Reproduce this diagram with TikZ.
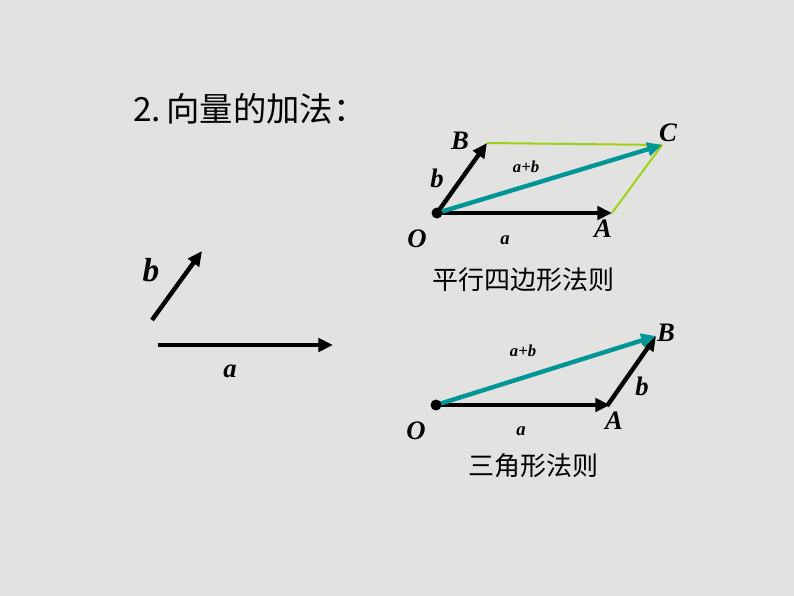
\documentclass[tikz,border=0pt]{standalone}
\usepackage{fontspec}
\setmainfont{Liberation Serif}
\newfontfamily\cjk{Noto Sans CJK SC}
\usetikzlibrary{arrows.meta}
\definecolor{bgGray}{RGB}{226,226,224}
\definecolor{sumTeal}{RGB}{0,150,150}
\definecolor{sideGreen}{RGB}{160,210,20}
\tikzset{
    vec/.style={line width=3.3pt,-{Triangle[length=11pt,width=10pt]}},
    sumvec/.style={vec,sumTeal},
    side/.style={line width=1.5pt,sideGreen},
    lbl/.style={font=\bfseries\itshape\fontsize{20}{20}\selectfont,inner sep=0pt},
    smalllbl/.style={font=\bfseries\itshape\fontsize{12.5}{12.5}\selectfont,inner sep=0pt},
    captext/.style={font=\cjk\fontsize{19.5}{19.5}\selectfont,inner sep=0pt},
}
\begin{document}
\begin{tikzpicture}[x=0.75pt,y=-0.75pt]
        \fill[bgGray] (0,0) rectangle (794,596);
        \useasboundingbox (0,0) rectangle (794,596);
        %% title
        \node[font=\cjk\fontsize{25}{25}\selectfont,anchor=west,inner sep=0pt] (title) at (133,109) {2.\,向量的加法：};
        %% free vectors a and b
        \coordinate (bS) at (152,320);
        \coordinate (bE) at (202,251);
        \coordinate (aS) at (158,345);
        \coordinate (aE) at (333,345);
        \draw[vec] (bS) -- (bE);
        \draw[vec] (aS) -- (aE);
        \node[lbl,font=\bfseries\itshape\fontsize{25}{25}\selectfont] (bLbl) at (151,270) {b};
        \node[lbl] (aLbl) at (230,371) {a};
        %% parallelogram rule
        \coordinate (pO) at (437,213);
        \coordinate (pA) at (612,213);
        \coordinate (pB) at (487,143);
        \coordinate (pC) at (662,145);
        \draw[side] (pB) -- (pC);
        \draw[side] (pA) -- (pC);
        \draw[vec] (pO) -- (pA);
        \draw[vec] (pO) -- (pB);
        \draw[sumvec] (pO) -- (pC);
        \fill (pO) circle (5.5);
        \node[lbl] (pOLbl) at (417,239) {O};
        \node[lbl] (pALbl) at (603,229) {A};
        \node[lbl] (pBLbl) at (460,141) {B};
        \node[lbl] (pCLbl) at (668,133) {C};
        \node[lbl] (pbLbl) at (437,178) {b};
        \node[smalllbl,font=\bfseries\itshape\fontsize{14}{14}\selectfont] (paLbl) at (505,240) {a};
        \node[smalllbl] (pabLbl) at (526,167) {a+b};
        \node[captext] (pCap) at (523,280) {平行四边形法则};
        %% triangle rule
        \coordinate (tO) at (436,405);
        \coordinate (tA) at (610,405);
        \coordinate (tB) at (656,336);
        \draw[vec] (tO) -- (tA);
        \draw[vec] ([shift={(-3,1)}]tA) -- (tB);
        \draw[sumvec] (tO) -- (tB);
        \fill (tO) circle (5.5);
        \node[lbl] (tOLbl) at (416,431) {O};
        \node[lbl] (tALbl) at (614,421) {A};
        \node[lbl] (tBLbl) at (666,333) {B};
        \node[lbl] (tbLbl) at (642,386) {b};
        \node[smalllbl,font=\bfseries\itshape\fontsize{14}{14}\selectfont] (taLbl) at (521,431) {a};
        \node[smalllbl] (tabLbl) at (523,351) {a+b};
        \node[captext] (tCap) at (533,466) {三角形法则};
\end{tikzpicture}
\end{document}
